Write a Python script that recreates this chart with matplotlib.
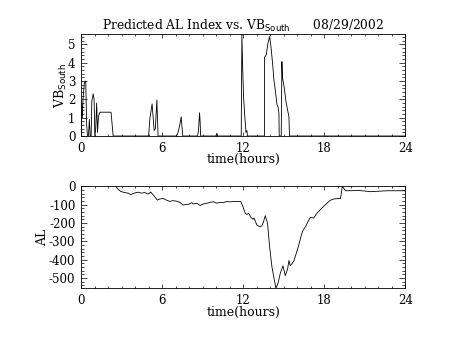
import numpy as np
import matplotlib
matplotlib.use('Agg')
import matplotlib.pyplot as plt
from matplotlib.ticker import MultipleLocator

plt.rcParams['font.family'] = 'DejaVu Serif'
plt.rcParams['axes.unicode_minus'] = False

# %% data
# VB_South (top panel)
vb_time = [0.0, 0.05, 0.1, 0.15, 0.25, 0.35, 0.42, 0.48, 0.55, 0.62, 0.68, 0.75,
           0.8, 0.9, 0.97, 1.02, 1.08, 1.16, 1.22, 1.3, 1.4, 2.22, 2.38,
           5.0, 5.1, 5.26, 5.41, 5.5, 5.61, 5.7,
           7.05, 7.14, 7.28, 7.41, 7.47, 7.53,
           8.62, 8.69, 8.77, 8.81, 8.85,
           9.98, 10.05, 10.1,
           11.73, 11.85, 11.9, 11.95, 12.02, 12.1, 12.2, 12.27, 12.31,
           13.57, 13.58, 13.7, 13.83, 13.95, 14.05, 14.17, 14.27, 14.37, 14.5,
           14.57, 14.64, 14.66, 14.81, 14.86, 14.9, 15.04, 15.16, 15.28, 15.38,
           15.42, 24.0]
vb_south = [0.0, 1.8, 1.0, 2.0, 2.9, 3.0, 0.6, 0.0, 0.0, 0.9, 0.0, 0.0,
            1.9, 2.3, 2.0, 0.0, 0.3, 1.8, 0.2, 1.1, 1.3, 1.3, 0.0,
            0.0, 1.0, 1.75, 0.3, 0.4, 1.97, 0.0,
            0.0, 0.1, 0.5, 1.05, 0.5, 0.0,
            0.0, 0.3, 1.27, 0.8, 0.0,
            0.0, 0.15, 0.0,
            0.0, 0.0, 5.57, 3.97, 2.15, 1.24, 0.2, 0.3, 0.0,
            0.0, 4.3, 4.43, 5.07, 5.43, 4.88, 3.97, 3.06, 2.51, 1.69,
            1.6, 1.24, 0.0, 0.0, 4.06, 3.2, 2.6, 1.88, 1.42, 1.05,
            0.0, 0.0]

# AL index (bottom panel)
al_time = [2.57, 2.74, 2.94, 3.23, 3.48, 3.68, 3.93, 4.22, 4.47, 4.72, 4.96,
           5.16, 5.41, 5.65, 5.83, 6.07, 6.32, 6.57, 6.81, 7.14, 7.31, 7.56,
           7.8, 7.95, 8.2, 8.3, 8.57, 8.81, 9.06, 9.31, 9.56, 9.8, 10.05,
           10.3, 10.54, 10.79, 11.04, 11.28, 11.53, 11.83, 11.98, 12.15,
           12.27, 12.4, 12.57, 12.72, 12.8, 13.01, 13.21, 13.38, 13.5, 13.63,
           13.8, 13.95, 14.12, 14.3, 14.42, 14.57, 14.74, 14.94, 15.11, 15.28,
           15.38, 15.48, 15.73, 15.93, 16.1, 16.27, 16.42, 16.59, 16.77,
           16.96, 17.21, 17.46, 17.7, 17.95, 18.2, 18.44, 18.69, 18.94, 19.19,
           19.26, 19.33, 19.56, 19.93, 20.42, 20.91, 21.4, 21.9, 22.64, 23.4,
           24.0]
al_index = [0, -15, -28, -34, -37, -45, -37, -32, -37, -34, -42,
            -31, -53, -75, -69, -66, -75, -82, -78, -82, -87, -102,
            -98, -98, -89, -96, -92, -104, -96, -92, -87, -84, -92,
            -87, -89, -82, -85, -82, -82, -84, -111, -147,
            -153, -147, -169, -180, -173, -211, -220, -216, -193, -160,
            -202, -329, -438, -511, -556, -529, -474, -433, -487, -451,
            -404, -433, -409, -364, -322, -273, -240, -222, -195,
            -169, -173, -146, -127, -109, -91, -76, -69, -67, -67,
            -36, 0, -24, -24, -22, -25, -29, -27, -24, -24,
            -24]

# %% plot
fig = plt.figure(figsize=(4.53, 3.40), dpi=100)
ax1 = fig.add_axes([0.1788, 0.60, 0.7163, 0.30])
ax2 = fig.add_axes([0.1788, 0.152, 0.7163, 0.301])

for ax in [ax1, ax2]:
    ax.set_xlim(0, 24)
    ax.xaxis.set_major_locator(MultipleLocator(6))
    ax.xaxis.set_minor_locator(MultipleLocator(1))
    ax.tick_params(which='both', direction='in', top=True, right=True,
                   labelsize=8.5, width=0.5, color='black')
    ax.tick_params(axis='x', which='major', length=3, pad=4)
    ax.tick_params(axis='x', which='minor', length=1.5)
    ax.tick_params(axis='y', which='major', length=4.3, pad=4)
    ax.tick_params(axis='y', which='minor', length=2.2)
    for s in ax.spines.values():
        s.set_linewidth(0.6)
    ax.set_xlabel('time(hours)', fontsize=9, labelpad=-1)

ax1.plot(vb_time, vb_south, color='black', lw=0.6)
ax1.set_ylim(0, 5.57)
ax1.yaxis.set_major_locator(MultipleLocator(1))
ax1.yaxis.set_minor_locator(MultipleLocator(0.2))
ax1.set_ylabel('VB$_{\\mathrm{South}}$', fontsize=9, labelpad=-1)
ax1.set_title('Predicted AL Index vs. VB$_{\\mathrm{South}}$      08/29/2002',
              fontsize=8.8, pad=3)

ax2.plot(al_time, al_index, color='black', lw=0.6)
ax2.set_ylim(-556, 2)
ax2.yaxis.set_major_locator(MultipleLocator(100))
ax2.yaxis.set_minor_locator(MultipleLocator(20))
ax2.set_ylabel('AL', fontsize=9, labelpad=0)

plt.savefig('out.png', dpi=100)
